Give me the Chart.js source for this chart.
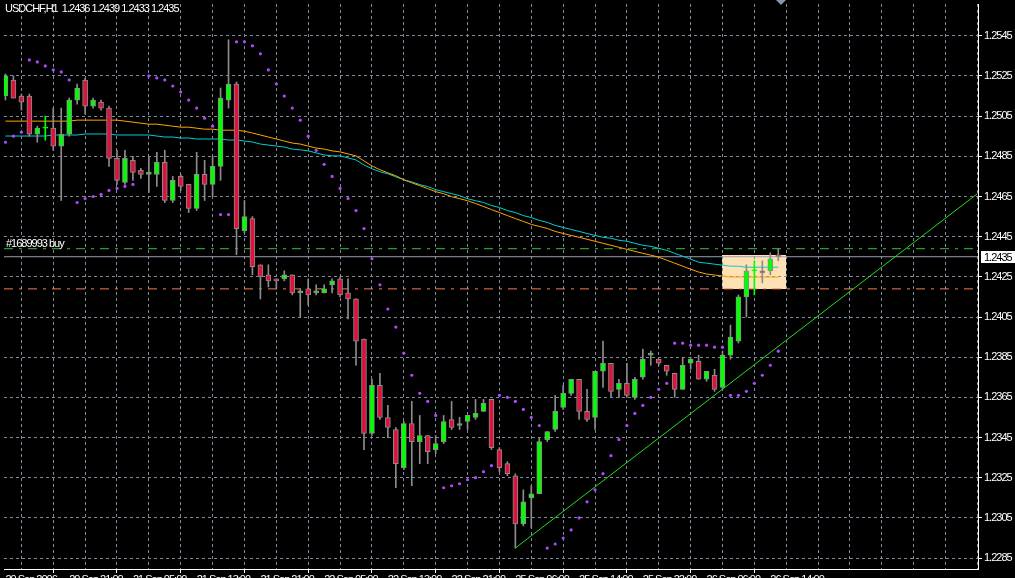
<!DOCTYPE html>
<html><head><meta charset="utf-8">
<script src="https://cdn.jsdelivr.net/npm/chart.js@4.4.1/dist/chart.umd.min.js"></script>
<style>html,body{margin:0;padding:0;background:#000;overflow:hidden}canvas{display:block}</style>
</head><body>
<canvas id="c" width="1015" height="578"></canvas>
<script>
// ---------- data ----------
const chartTitle = 'USDCHF,H1  1.2436 1.2439 1.2433 1.2435';
const xTickLabels = ['20 Sep 2006','20 Sep 21:00','21 Sep 05:00','21 Sep 13:00','21 Sep 21:00','22 Sep 05:00','22 Sep 13:00','22 Sep 21:00','25 Sep 06:00','25 Sep 14:00','25 Sep 22:00','26 Sep 06:00','26 Sep 14:00'];
const yTickValues = [1.2285,1.2305,1.2325,1.2345,1.2365,1.2385,1.2405,1.2425,1.2445,1.2465,1.2485,1.2505,1.2525,1.2545];

const opens = [1.2515,1.2523,1.2515,1.2515,1.2496,1.2499,1.2499,1.2490,1.2496,1.2513,
1.2523,1.2510,1.2512,1.2509,1.2484,1.2472,1.2483,1.2478,1.2476,1.2476,
1.2482,1.2463,1.2475,1.2471,1.2459,1.2476,1.2471,1.2480,1.2513,1.2521,
1.2448,1.2454,1.2431,1.2426,1.2424,1.2424,1.2426,1.2417,1.2419,1.2417,
1.2417,1.2421,1.2424,1.2417,1.2414,1.2394,1.2347,1.2371,1.2355,1.2349,
1.2330,1.2352,1.2343,1.2346,1.2339,1.2343,1.2354,1.2351,1.2353,1.2355,
1.2358,1.2364,1.2339,1.2332,1.2326,1.2302,1.2315,1.2317,1.2344,1.2349,
1.2360,1.2367,1.2374,1.2358,1.2355,1.2378,1.2382,1.2369,1.2372,1.2365,
1.2375,1.2386,1.2384,1.2381,1.2377,1.2369,1.2382,1.2383,1.2374,1.2376,
1.2370,1.2386,1.2393,1.2415,1.2428,1.2428,1.2428,1.2436];
const highs = [1.2526,1.2525,1.2516,1.2516,1.2500,1.2505,1.2509,1.2509,1.2514,1.2521,
1.2524,1.2514,1.2513,1.2510,1.2488,1.2488,1.2485,1.2479,1.2485,1.2487,
1.2488,1.2475,1.2476,1.2471,1.2487,1.2483,1.2485,1.2519,1.2543,1.2522,
1.2463,1.2455,1.2431,1.2431,1.2424,1.2428,1.2426,1.2419,1.2424,1.2421,
1.2421,1.2424,1.2425,1.2424,1.2414,1.2394,1.2374,1.2377,1.2361,1.2350,
1.2353,1.2363,1.2356,1.2346,1.2346,1.2356,1.2363,1.2355,1.2356,1.2364,
1.2364,1.2364,1.2340,1.2333,1.2327,1.2319,1.2321,1.2345,1.2348,1.2366,
1.2371,1.2374,1.2374,1.2369,1.2378,1.2393,1.2382,1.2374,1.2382,1.2375,
1.2389,1.2388,1.2384,1.2381,1.2377,1.2385,1.2385,1.2386,1.2378,1.2379,
1.2388,1.2401,1.2416,1.2431,1.2433,1.2433,1.2437,1.2439];
const lows = [1.2513,1.2514,1.2508,1.2495,1.2492,1.2493,1.2488,1.2463,1.2495,1.2511,
1.2506,1.2509,1.2508,1.2480,1.2471,1.2471,1.2473,1.2474,1.2467,1.2470,
1.2462,1.2462,1.2468,1.2457,1.2458,1.2463,1.2465,1.2473,1.2509,1.2436,
1.2447,1.2426,1.2414,1.2420,1.2419,1.2423,1.2416,1.2405,1.2411,1.2416,
1.2417,1.2417,1.2415,1.2404,1.2381,1.2339,1.2346,1.2354,1.2345,1.2320,
1.2329,1.2321,1.2332,1.2332,1.2337,1.2342,1.2349,1.2349,1.2349,1.2354,
1.2358,1.2339,1.2328,1.2326,1.2290,1.2301,1.2300,1.2317,1.2343,1.2348,
1.2359,1.2366,1.2354,1.2353,1.2349,1.2370,1.2365,1.2365,1.2365,1.2364,
1.2374,1.2381,1.2381,1.2376,1.2365,1.2369,1.2379,1.2374,1.2373,1.2368,
1.2369,1.2384,1.2392,1.2405,1.2416,1.2422,1.2426,1.2433];
const closes = [1.2525,1.2514,1.2512,1.2496,1.2499,1.2499,1.2490,1.2496,1.2513,1.2519,
1.2510,1.2513,1.2509,1.2484,1.2473,1.2484,1.2477,1.2476,1.2477,1.2482,
1.2463,1.2473,1.2470,1.2459,1.2476,1.2471,1.2480,1.2514,1.2521,1.2449,
1.2455,1.2430,1.2425,1.2423,1.2423,1.2426,1.2417,1.2418,1.2416,1.2418,
1.2419,1.2423,1.2416,1.2414,1.2393,1.2347,1.2371,1.2355,1.2350,1.2332,
1.2352,1.2343,1.2346,1.2338,1.2342,1.2353,1.2350,1.2352,1.2356,1.2357,
1.2362,1.2340,1.2330,1.2327,1.2302,1.2313,1.2317,1.2343,1.2348,1.2358,
1.2367,1.2374,1.2358,1.2354,1.2378,1.2382,1.2368,1.2372,1.2366,1.2374,
1.2384,1.2387,1.2382,1.2378,1.2369,1.2381,1.2384,1.2374,1.2378,1.2369,
1.2386,1.2395,1.2415,1.2428,1.2428,1.2427,1.2434,1.2435];
const sar = [1.2492,1.2495,1.2497,1.2533,1.2532,1.2530,1.2528,1.2527,1.2523,1.2462,
1.2464,1.2465,1.2466,1.2468,1.2469,1.2470,1.2471,null,1.2525,1.2524,
1.2523,1.2520,1.2517,1.2513,1.2509,1.2504,1.2500,1.2456,1.2456,1.2542,
1.2542,1.2540,1.2536,1.2528,1.2521,1.2515,1.2509,1.2503,1.2495,1.2488,
1.2481,1.2475,1.2469,1.2464,1.2458,1.2449,1.2434,1.2421,1.2409,1.2400,
1.2387,1.2376,1.2367,1.2363,1.2356,1.2320,1.2321,1.2322,1.2324,1.2325,
1.2328,1.2331,1.2366,1.2365,1.2363,1.2359,1.2355,1.2351,1.2290,1.2292,
1.2295,1.2299,1.2305,1.2313,1.2319,1.2327,1.2336,1.2344,1.2351,1.2357,
1.2361,1.2365,1.2369,1.2372,1.2392,1.2392,1.2391,1.2391,1.2391,1.2390,
1.2390,1.2366,1.2366,1.2368,1.2372,1.2376,1.2381,1.2388];
const maFast = [1.25025,1.25025,1.25025,1.25025,1.25025,1.25025,1.25025,1.25025,1.25025,1.25030,
1.25030,1.25030,1.25030,1.25030,1.25030,1.25025,1.25020,1.25015,1.25010,1.25010,
1.25005,1.25000,1.24995,1.24995,1.24990,1.24985,1.24985,1.24980,1.24980,1.24980,
1.24975,1.24966,1.24956,1.24946,1.24936,1.24926,1.24916,1.24911,1.24901,1.24891,
1.24886,1.24877,1.24872,1.24862,1.24852,1.24827,1.24802,1.24783,1.24768,1.24753,
1.24733,1.24718,1.24704,1.24689,1.24674,1.24664,1.24649,1.24639,1.24629,1.24615,
1.24600,1.24585,1.24570,1.24555,1.24540,1.24526,1.24511,1.24501,1.24491,1.24476,
1.24466,1.24456,1.24447,1.24437,1.24427,1.24417,1.24407,1.24397,1.24387,1.24377,
1.24367,1.24358,1.24348,1.24333,1.24318,1.24303,1.24288,1.24274,1.24264,1.24259,
1.24254,1.24249,1.24249,1.24249,1.24249,1.24249,1.24249,1.24249];
const maSlow = [1.24951,1.24951,1.24951,1.24951,1.24951,1.24951,1.24956,1.24956,1.24956,1.24956,
1.24961,1.24961,1.24961,1.24961,1.24956,1.24956,1.24956,1.24956,1.24956,1.24951,
1.24946,1.24946,1.24941,1.24941,1.24936,1.24936,1.24936,1.24936,1.24931,1.24931,
1.24926,1.24921,1.24911,1.24906,1.24901,1.24896,1.24886,1.24882,1.24877,1.24867,
1.24857,1.24852,1.24852,1.24842,1.24832,1.24807,1.24788,1.24773,1.24763,1.24748,
1.24733,1.24723,1.24709,1.24699,1.24684,1.24674,1.24664,1.24654,1.24639,1.24629,
1.24620,1.24605,1.24595,1.24580,1.24570,1.24555,1.24545,1.24531,1.24521,1.24506,
1.24496,1.24486,1.24476,1.24466,1.24456,1.24447,1.24442,1.24432,1.24427,1.24417,
1.24407,1.24402,1.24392,1.24382,1.24367,1.24353,1.24338,1.24323,1.24318,1.24313,
1.24308,1.24303,1.24303,1.24298,1.24298,1.24298,1.24298,1.24298];

const orderPrice = 1.2439, orderLabel = '#1689993 buy';
const stopPrice = 1.2419;
const bidPrice = 1.2435;
const trendX = [64, 122], trendY = [1.2290, 1.24664];
const boxX = [90, 98], boxY = [1.2419, 1.2436];
const shiftMarkerX = 97.35;
const xRange = [-0.18125, 122.06875];
const yRange = [1.2279563, 1.2560817];

// ---------- styles ----------
const FONT = "'Liberation Sans', Arial, sans-serif";
const SPACING = '-1px';
const GRID = '#7f8a9c';
const WICK = '#8c8c8c';
const BULL = '#00ff00', BEAR = '#dc143c', DOJI = '#00ff00';

const isDoji = i => opens[i] === closes[i];
const wickData = opens.map((o, i) => ({x: i, y: [lows[i], highs[i]]}));
const bodyData = opens.map((o, i) => ({x: i, y: [o, closes[i]]}));
const line = (arr) => arr.map((v, i) => ({x: i, y: v}));
const hline = (p) => [{x: xRange[0], y: p}, {x: xRange[1], y: p}];

const bg = {
  id: 'bg',
  beforeLayout(chart) { chart.ctx.letterSpacing = SPACING; },
  beforeDraw(chart) {
    const c = chart.ctx, xs = chart.scales.x, ys = chart.scales.y;
    c.letterSpacing = SPACING;
    c.save();
    c.fillStyle = '#000';
    c.fillRect(0, 0, chart.width, chart.height);
    const x1 = xs.getPixelForValue(boxX[0]), x2 = xs.getPixelForValue(boxX[1]);
    const y1 = ys.getPixelForValue(boxY[1]), y2 = ys.getPixelForValue(boxY[0]);
    c.fillStyle = '#ffe2b4';
    c.fillRect(Math.round(x1), Math.round(y1), Math.round(x2 - x1), Math.round(y2 - y1));
    c.restore();
  }
};
const overlay = {
  id: 'overlay',
  afterDraw(chart) {
    const c = chart.ctx, xs = chart.scales.x, ys = chart.scales.y, a = chart.chartArea;
    c.save();
    c.letterSpacing = SPACING;
    c.font = '11px ' + FONT;
    c.fillStyle = '#ffffff';
    c.textBaseline = 'alphabetic';
    c.textAlign = 'left';
    c.fillText(chartTitle, 5, 12);
    c.fillText(orderLabel, 6, Math.round(ys.getPixelForValue(orderPrice)) - 2);
    const by = Math.round(ys.getPixelForValue(bidPrice));
    c.fillStyle = '#ffffff';
    c.fillRect(a.right + 3, by - 6, chart.width - a.right - 3, 12);
    c.fillStyle = '#000000';
    c.textBaseline = 'middle';
    c.fillText(bidPrice.toFixed(4), a.right + 6, by + 0.5);
    const mx = Math.round(xs.getPixelForValue(shiftMarkerX));
    c.fillStyle = '#8796aa';
    c.beginPath();
    c.moveTo(mx - 5, 0); c.lineTo(mx + 5, 0); c.lineTo(mx, 5); c.closePath(); c.fill();
    c.restore();
  }
};

Chart.defaults.font.family = FONT;
new Chart(document.getElementById('c'), {
  type: 'bar',
  data: {
    datasets: [
      {type: 'line', label: 'trend', data: [{x: trendX[0], y: trendY[0]}, {x: trendX[1], y: trendY[1]}],
       borderColor: '#22dd22', borderWidth: 1, pointRadius: 0, order: 0},
      {type: 'line', label: 'sar', data: line(sar), showLine: false, pointRadius: 1.6, pointBorderWidth: 0,
       pointBackgroundColor: '#b048ff', order: 1},
      {type: 'bar', label: 'body', data: bodyData, barThickness: 5, grouped: false, minBarLength: 1,
       borderSkipped: false, borderWidth: 1,
       backgroundColor: c => { const i = c.dataIndex; return closes[i] > opens[i] ? BULL : (closes[i] < opens[i] ? BEAR : DOJI); },
       borderColor: c => isDoji(c.dataIndex) ? DOJI : WICK, order: 2},
      {type: 'bar', label: 'wick', data: wickData, barThickness: 1, grouped: false, borderWidth: 0,
       backgroundColor: c => isDoji(c.dataIndex) ? DOJI : WICK, order: 3},
      {type: 'line', label: 'maFast', data: line(maFast), borderColor: '#ffa500', borderWidth: 1, pointRadius: 0, order: 4},
      {type: 'line', label: 'maSlow', data: line(maSlow), borderColor: '#00ced1', borderWidth: 1, pointRadius: 0, order: 5},
      {type: 'line', label: 'bid', data: hline(bidPrice), borderColor: '#97a0ae', borderWidth: 1, pointRadius: 0, order: 6},
      {type: 'line', label: 'order', data: hline(orderPrice), borderColor: '#2ec82e', borderWidth: 1, borderDash: [9, 6, 3, 6], pointRadius: 0, order: 7},
      {type: 'line', label: 'stop', data: hline(stopPrice), borderColor: '#f5804a', borderWidth: 1, borderDash: [9, 6, 3, 6], pointRadius: 0, order: 8}
    ]
  },
  options: {
    responsive: false, animation: false, devicePixelRatio: 1,
    layout: {padding: 0},
    plugins: {legend: {display: false}, tooltip: {enabled: false}, title: {display: false}},
    scales: {
      x: {
        type: 'linear', position: 'bottom', min: xRange[0], max: xRange[1], offset: false,
        grid: {color: GRID, lineWidth: 1, tickLength: 4, tickWidth: 1,
               tickColor: c => (c.tick && c.tick.value % 8 === 0 && xTickLabels[c.tick.value / 8] !== undefined) ? '#ffffff' : 'rgba(0,0,0,0)'},
        border: {display: true, color: '#ffffff', width: 1, dash: [3, 3]},
        ticks: {autoSkip: false, maxRotation: 0, minRotation: 0, align: 'start', padding: 0, color: '#ffffff',
                font: {family: FONT, size: 11},
                callback: v => (v % 8 === 0 && xTickLabels[v / 8] !== undefined) ? xTickLabels[v / 8] : ''},
        afterBuildTicks: s => { const t = []; for (let v = 0; v <= 120; v += 4) t.push({value: v}); s.ticks = t; },
        afterFit: s => { s.height = 9; s.paddingLeft = 0; s.paddingRight = 0; s.paddingTop = 0; s.paddingBottom = 0; }
      },
      y: {
        type: 'linear', position: 'right', min: yRange[0], max: yRange[1],
        grid: {color: GRID, lineWidth: 1, tickLength: 4, tickWidth: 1, tickColor: '#ffffff'},
        border: {display: true, color: '#ffffff', width: 1, dash: [3, 3]},
        ticks: {padding: 2, color: '#ffffff', font: {family: FONT, size: 11}, callback: v => Number(v).toFixed(4)},
        afterBuildTicks: s => { s.ticks = yTickValues.map(v => ({value: v})); },
        afterFit: s => { s.width = 37; s.paddingLeft = 0; s.paddingRight = 0; s.paddingTop = 0; s.paddingBottom = 0; }
      }
    }
  },
  plugins: [bg, overlay]
});
</script>
</body></html>
